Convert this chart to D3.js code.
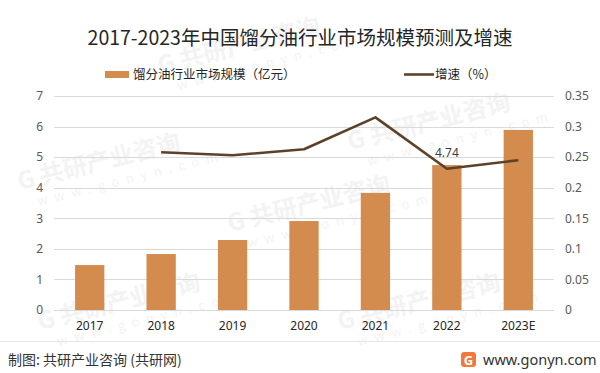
<!DOCTYPE html>
<html>
<head>
<meta charset="utf-8">
<script src="https://cdn.jsdelivr.net/npm/d3@7"></script>
<style>
  html, body { margin: 0; padding: 0; background: #fff; }
  svg { display: block; font-family: "Noto Sans CJK SC", "Noto Sans", sans-serif; }
</style>
</head>
<body>
<div id="chart"></div>
<script>
// 数据
const years = ['2017', '2018', '2019', '2020', '2021', '2022', '2023E']
const marketSize = [1.47, 1.83, 2.29, 2.91, 3.83, 4.74, 5.89]
const growth = [null, 0.258, 0.253, 0.263, 0.315, 0.231, 0.245]
const leftTicks = [0, 1, 2, 3, 4, 5, 6, 7]
const rightTicks = [0, 0.05, 0.1, 0.15, 0.2, 0.25, 0.3, 0.35]
const labelled = ['2022']

const width = 600
const height = 373
const margin = { top: 96, right: 46, bottom: 63, left: 54 }

const barColor = '#d38b4e'
const lineColor = '#5e4129'

const svg = d3.select('#chart').append('svg')
  .attr('width', width)
  .attr('height', height)
  .attr('viewBox', [0, 0, width, height])

svg.append('rect').attr('width', width).attr('height', height).attr('fill', '#fff')

// 水印（保持在画布内）
const wm = svg.append('g').attr('fill', '#f3f3f3')
const wmPos = [[160, 74], [350, 150], [20, 190], [230, 232], [40, 330], [340, 330]]
wmPos.forEach(([x, y]) => {
  const g = wm.append('g').attr('transform', `translate(${x},${y}) rotate(-14)`)
  g.append('text').attr('font-size', 24).attr('font-weight', 'bold').text('G 共研产业咨询')
  g.append('text').attr('y', 20).attr('x', 14).attr('font-size', 13).attr('letter-spacing', 7).text('www.gonyn.com')
})

const x = d3.scaleBand()
  .domain(years)
  .range([margin.left, width - margin.right])
  .paddingInner(0.59)
  .paddingOuter(0.295)

const yL = d3.scaleLinear().domain([0, 7]).range([height - margin.bottom, margin.top])
const yR = d3.scaleLinear().domain([0, 0.35]).range([height - margin.bottom, margin.top])

// 网格线
svg.append('g')
  .selectAll('line')
  .data(leftTicks)
  .join('line')
  .attr('x1', margin.left)
  .attr('x2', width - margin.right)
  .attr('y1', (d) => Math.round(yL(d)) + 0.5)
  .attr('y2', (d) => Math.round(yL(d)) + 0.5)
  .attr('stroke', '#d9d9d9')
  .attr('stroke-width', 1)

// 左轴
const axisL = d3.axisLeft(yL).tickValues(leftTicks).tickSize(0).tickPadding(11).tickFormat(d3.format('d'))
svg.append('g')
  .attr('transform', `translate(${margin.left},0)`)
  .call(axisL)
  .call((g) => g.select('.domain').remove())
  .call((g) => g.selectAll('text').attr('fill', '#595959').attr('font-size', 12).attr('font-family', '"Noto Sans", sans-serif'))

// 右轴
const axisR = d3.axisRight(yR).tickValues(rightTicks).tickSize(0).tickPadding(11).tickFormat((d) => String(+d.toFixed(2)))
svg.append('g')
  .attr('transform', `translate(${width - margin.right},0)`)
  .call(axisR)
  .call((g) => g.select('.domain').remove())
  .call((g) => g.selectAll('text').attr('fill', '#595959').attr('font-size', 12).attr('font-family', '"Noto Sans", sans-serif'))

// 柱子
svg.append('g')
  .selectAll('rect')
  .data(years)
  .join('rect')
  .attr('x', (d) => x(d))
  .attr('width', x.bandwidth())
  .attr('y', (d, i) => yL(marketSize[i]))
  .attr('height', (d, i) => yL(0) - yL(marketSize[i]))
  .attr('fill', barColor)

// x轴标签
const axisB = d3.axisBottom(x).tickSize(0).tickPadding(11)
svg.append('g')
  .attr('transform', `translate(0,${height - margin.bottom})`)
  .call(axisB)
  .call((g) => g.select('.domain').remove())
  .call((g) => g.selectAll('text').attr('fill', '#262626').attr('font-size', 12).attr('font-family', '"Noto Sans", sans-serif'))

// 增速折线
const pts = years.map((d, i) => ({ year: d, v: growth[i], size: marketSize[i] })).filter((d) => d.v != null)
const line = d3.line()
  .x((d) => x(d.year) + x.bandwidth() / 2)
  .y((d) => yR(d.v))

svg.append('path')
  .datum(pts)
  .attr('d', line)
  .attr('fill', 'none')
  .attr('stroke', lineColor)
  .attr('stroke-width', 2.6)
  .attr('stroke-linejoin', 'round')

svg.append('g')
  .selectAll('text')
  .data(pts.filter((d) => labelled.includes(d.year)))
  .join('text')
  .attr('x', (d) => x(d.year) + x.bandwidth() / 2)
  .attr('y', (d) => yR(d.v) - 12)
  .attr('text-anchor', 'middle')
  .attr('font-size', 12)
  .attr('font-family', '"Noto Sans", sans-serif')
  .attr('fill', '#404040')
  .text((d) => d.size)

// 标题
svg.append('text')
  .attr('x', 300)
  .attr('y', 45)
  .attr('text-anchor', 'middle')
  .attr('font-size', 19.5)
  .attr('fill', '#262626')
  .text('2017-2023年中国馏分油行业市场规模预测及增速')

// 图例
const legend = svg.append('g').attr('font-size', 12.5).attr('fill', '#262626')
legend.append('rect').attr('x', 105).attr('y', 71).attr('width', 24).attr('height', 7).attr('fill', barColor)
legend.append('text').attr('x', 133).attr('y', 78.5).text('馏分油行业市场规模（亿元）')
legend.append('line').attr('x1', 404).attr('x2', 434).attr('y1', 74.5).attr('y2', 74.5)
  .attr('stroke', lineColor).attr('stroke-width', 2.6)
legend.append('text').attr('x', 435).attr('y', 78.5).text('增速（%）')

// 底部
svg.append('line')
  .attr('x1', 0).attr('x2', width)
  .attr('y1', 341.5).attr('y2', 341.5)
  .attr('stroke', '#e6e6e6')

svg.append('text')
  .attr('x', 8)
  .attr('y', 365)
  .attr('font-size', 14)
  .attr('fill', '#333')
  .text('制图: 共研产业咨询 (共研网)')

const logo = svg.append('g').attr('transform', 'translate(461,352)')
logo.append('rect').attr('width', 15).attr('height', 15).attr('rx', 3).attr('fill', '#f07a3c')
logo.append('text').attr('x', 7.5).attr('y', 12.5).attr('text-anchor', 'middle')
  .attr('font-size', 13).attr('font-weight', 'bold').attr('fill', '#fff').attr('font-family', '"Noto Sans", sans-serif').text('G')

svg.append('text')
  .attr('x', 483)
  .attr('y', 365)
  .attr('font-size', 14.5)
  .attr('fill', '#333')
  .attr('font-family', '"Noto Sans", sans-serif')
  .text('www.gonyn.com')
</script>
</body>
</html>
